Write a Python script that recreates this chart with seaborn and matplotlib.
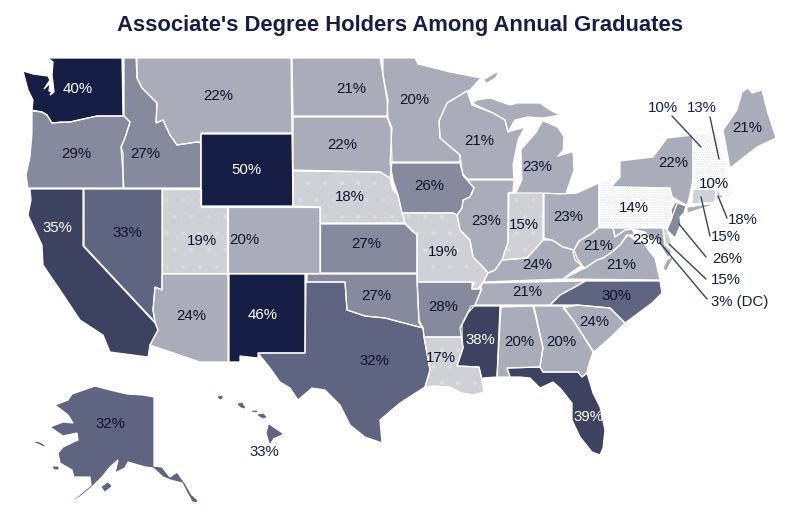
import pandas as pd
import matplotlib
matplotlib.use('Agg')
import matplotlib.pyplot as plt
import seaborn as sns

# share of associate's degree holders per state
state_names = ['WA','OR','CA','NV','ID','MT','WY','UT','AZ','CO','NM','ND','SD','NE','KS','OK','TX',
               'MN','IA','MO','AR','LA','WI','IL','MI','IN','OH','KY','TN','MS','AL','GA','FL','SC',
               'NC','VA','WV','MD','DE','DC','PA','NY','NJ','CT','RI','MA','VT','NH','ME','AK','HI']
percents = [40,29,35,33,27,22,50,19,24,20,46,21,22,18,27,27,32,
            20,26,19,28,17,21,23,23,15,23,24,21,38,20,20,39,24,
            30,21,21,23,15,3,14,22,26,15,18,10,10,13,21,32,33]

shades = ['#ffffff','#d0d1d6','#abacb9','#878a9c','#5f6580','#3c4260','#161e45']
bin_edges = [0,15,20,25,30,35,40,101]

# state outlines (pixel space)
outlines = {
 'WA':[[(48,58),(122,58),(123,116),(97,116),(83,119),(70,122),(60,122),(52,123),(47,115),(42,112),(32,110),(33,100),(28,90),(23,71),(33,74),(48,76),(50,80),(44,89),(50,83),(49,91),(52,92),(50,95),(54,92),(53,83),(52,76),(53,62)]],
 'OR':[[(32,111),(42,112),(47,115),(52,123),(70,122),(97,116),(124,116),(130,122),(125,138),(121,147),(123,153),(123,188),(28,188),(26,175),(30,157),(32,133)]],
 'ID':[[(124,58),(136,58),(137,78),(142,88),(157,103),(156,123),(163,120),(170,135),(177,145),(197,142),(201,143),(201,188),(124,188),(121,147),(125,138),(130,122),(124,116)]],
 'MT':[[(137,58),(291,58),(292,133),(201,133),(201,142),(197,142),(177,145),(170,135),(163,120),(156,123),(157,103),(142,88),(137,78)]],
 'WY':[[(201,134),(292,134),(293,206),(201,206)]],
 'ND':[[(292,58),(380,58),(383,75),(388,100),(387,116),(293,116)]],
 'SD':[[(293,117),(387,117),(391,128),(392,162),(390,178),(380,172),(293,170)]],
 'NE':[[(293,171),(380,172),(390,178),(393,190),(398,195),(402,213),(405,223),(320,223),(320,207),(293,206)]],
 'IA':[[(390,163),(460,163),(463,175),(474,188),(470,197),(463,200),(462,208),(457,215),(453,213),(402,213),(398,195),(393,180)]],
 'MN':[[(383,58),(415,58),(418,64),(430,67),(450,72),(481,78),(470,90),(467,91),(447,103),(439,121),(440,138),(460,155),(460,162),(390,162),(392,128),(388,118),(387,100),(383,75)]],
 'WI':[[(472,105),(467,91),(447,103),(439,121),(440,138),(460,155),(461,163),(463,175),(468,179),(514,179),(513,165),(518,140),(525,127),(508,132),(505,120),(493,113)]],
 'MI':[[(472,103),(477,100),(490,98),(510,105),(517,103),(540,103),(550,110),(560,115),(543,118),(528,117),(515,120),(508,132),(505,120),(493,113)],
       [(543,122),(557,128),(563,137),(562,150),(555,158),(572,153),(573,170),(565,193),(517,193),(523,180),(522,150),(537,133)],
       [(485,80),(497,73),(495,77),(487,82)]],
 'IL':[[(468,180),(514,180),(513,192),(508,193),(508,242),(502,260),(495,270),(488,273),(483,267),(473,257),(470,240),(460,230),(457,215),(462,208),(463,200),(470,197),(474,188),(463,175)]],
 'IN':[[(509,193),(543,193),(543,240),(537,247),(527,258),(502,260),(508,242)]],
 'OH':[[(544,193),(560,194),(577,193),(599,183),(599,227),(593,233),(580,240),(574,250),(563,247),(552,240),(544,238)]],
 'KY':[[(483,282),(488,273),(495,270),(502,260),(527,258),(537,247),(543,240),(552,240),(563,247),(574,250),(577,258),(582,265),(572,272),(563,279)]],
 'TN':[[(475,305),(480,293),(482,283),(585,281),(573,288),(560,295),(550,305)]],
 'WV':[[(599,227),(613,228),(615,237),(625,230),(632,229),(635,235),(627,235),(620,245),(612,252),(603,258),(597,260),(585,268),(575,260),(573,252),(578,242),(592,233)]],
 'VA':[[(563,279),(585,268),(597,260),(603,258),(612,252),(620,245),(628,235),(635,240),(643,242),(650,252),(655,258),(660,280)],
       [(668,260),(672,258),(666,270),(664,268)]],
 'MD':[[(613,228),(663,228),(665,245),(672,252),(668,258),(660,245),(657,240),(650,238),(645,232),(632,229),(625,230),(615,237)]],
 'DE':[[(663,228),(667,229),(672,243),(665,245)]],
 'DC':[[(654,244),(657,244),(657,247),(654,247)]],
 'PA':[[(599,184),(611,178),(611,187),(670,188),(672,197),(678,201),(672,217),(666,226),(599,228)]],
 'NY':[[(611,187),(620,177),(620,161),(653,157),(667,138),(693,135),(693,180),(688,203),(686,205),(672,197),(670,188)],
       [(688,208),(710,205),(703,207),(688,212)]],
 'NJ':[[(675,202),(686,206),(684,213),(680,217),(681,224),(675,238),(667,230),(672,218),(671,210)]],
 'VT':[[(693,135),(708,133),(712,150),(708,165),(707,178),(693,180)]],
 'NH':[[(708,133),(716,131),(725,165),(727,167),(722,177),(707,178),(708,165),(712,150)]],
 'MA':[[(693,180),(722,177),(727,180),(730,190),(737,193),(725,198),(716,189),(693,189)]],
 'CT':[[(693,189),(716,189),(715,202),(692,204)]],
 'RI':[[(716,189),(722,190),(725,197),(716,201)]],
 'ME':[[(723,130),(737,110),(742,92),(748,88),(752,93),(762,90),(767,110),(776,138),(757,147),(730,168)]],
 'MO':[[(402,213),(453,213),(457,215),(460,230),(470,240),(473,257),(483,267),(488,273),(483,283),(477,289),(472,289),(474,282),(417,282),(417,235),(410,228),(405,223)]],
 'KS':[[(320,224),(405,224),(411,230),(417,235),(417,273),(320,273)]],
 'OK':[[(307,274),(417,274),(418,300),(419,320),(423,328),(400,322),(385,318),(365,316),(347,310),(345,282),(307,282)]],
 'TX':[[(306,282),(345,282),(347,310),(365,316),(385,318),(400,322),(423,328),(424,337),(430,370),(425,387),(400,403),(380,420),(382,443),(365,437),(350,425),(340,405),(325,390),(312,388),(298,400),(290,388),(280,382),(270,368),(258,353),(305,353)]],
 'NM':[[(229,274),(305,274),(305,353),(258,353),(258,358),(240,356),(240,362),(229,362)]],
 'LA':[[(424,337),(462,337),(463,348),(457,366),(479,367),(482,380),(484,392),(473,395),(462,393),(450,387),(433,386),(425,387),(430,370)]],
 'AR':[[(417,282),(472,282),(472,289),(482,289),(480,293),(475,305),(468,313),(462,325),(462,337),(424,337),(423,328),(419,323)]],
 'MS':[[(471,306),(500,306),(497,377),(483,378),(482,380),(479,367),(457,366),(463,348),(460,328)]],
 'AL':[[(501,307),(533,306),(543,348),(540,367),(507,368),(510,377),(497,377)]],
 'GA':[[(534,306),(563,306),(573,320),(593,352),(588,367),(587,373),(582,377),(578,372),(543,372),(540,367),(543,348)]],
 'FL':[[(507,368),(540,367),(543,372),(578,372),(582,377),(587,373),(593,393),(600,407),(605,430),(603,448),(600,455),(592,452),(580,437),(572,420),(572,403),(560,388),(553,382),(540,388),(530,378),(520,377),(510,377)]],
 'SC':[[(563,308),(577,305),(610,308),(625,323),(613,335),(594,352),(573,320)]],
 'NC':[[(586,281),(660,281),(662,293),(652,303),(625,323),(610,308),(577,305),(550,305),(560,295),(573,288)]],
 'UT':[[(162,189),(201,189),(201,207),(227,207),(227,273),(162,273)]],
 'CO':[[(228,207),(320,207),(320,273),(228,273)]],
 'NV':[[(84,189),(162,189),(162,290),(155,287),(153,310),(155,322),(84,246)]],
 'CA':[[(30,189),(83,189),(83,246),(155,323),(158,330),(150,345),(148,357),(110,352),(103,335),(80,320),(60,290),(43,265),(42,245),(28,215),(31,200)]],
 'AZ':[[(162,274),(228,274),(228,362),(200,362),(150,345),(158,330),(155,322),(153,310),(155,287),(162,290)]],
 'AK':[[(55,405),(68,400),(72,394),(95,386),(110,390),(127,394),(143,395),(154,397),(154,466),(162,467),(170,477),(177,472),(185,483),(192,495),(198,500),(197,503),(192,502),(182,483),(170,480),(163,477),(153,468),(145,467),(128,462),(125,468),(115,473),(118,460),(110,467),(102,477),(92,487),(80,497),(63,507),(78,496),(91,485),(90,477),(82,477),(74,477),(72,470),(60,463),(58,453),(63,447),(78,440),(77,433),(63,436),(50,427),(63,422),(73,423),(68,415)],
       [(35,442),(40,443),(44,446),(40,444)],
       [(53,467),(58,467),(58,469),(55,469)],
       [(102,487),(108,483),(111,486),(105,491)]],
 'HI':[[(218,397),(222,396),(222,398),(220,399)],
       [(238,404),(242,403),(245,408),(241,407)],
       [(252,411),(257,411),(256,412),(252,411)],
       [(258,415),(263,414),(266,417),(263,418)],
       [(269,425),(282,434),(273,438),(270,443),(267,433)]],
}

# where each label sits, states that are too small get a leader line
label_spots = {
 'WA':(78,89),'OR':(76,154),'CA':(57,228),'NV':(127,233),'ID':(145,154),'MT':(218,96),'WY':(246,170),
 'UT':(202,241),'AZ':(191,316),'CO':(244,240),'NM':(263,315),'ND':(351,89),'SD':(342,145),'NE':(350,197),
 'KS':(366,244),'OK':(376,296),'TX':(374,361),'MN':(414,100),'IA':(429,186),'MO':(443,252),'AR':(443,307),
 'LA':(441,358),'WI':(479,141),'IL':(486,221),'MI':(537,167),'IN':(524,225),'OH':(568,217),'KY':(537,265),
 'TN':(527,292),'MS':(480,340),'AL':(519,342),'GA':(561,342),'FL':(588,417),'SC':(594,322),'NC':(616,296),
 'VA':(621,265),'WV':(598,246),'MD':(647,240),'NY':(673,163),'ME':(747,128),'PA':(634,208),'AK':(110,424),
 'HI':(264,452),'VT':(663,108),'NH':(702,108),'MA':(714,184),'RI':(743,220),'CT':(726,237),'NJ':(727,259),
 'DE':(726,280),'DC':(740,302),
}
leaders = {
 'VT':[(672,116),(701,147)],'NH':[(710,117),(719,159)],'RI':[(718,196),(727,218)],'CT':[(701,197),(710,236)],
 'NJ':[(679,224),(706,257)],'DE':[(669,244),(706,279)],'DC':[(660,243),(707,299)],
}

df = pd.DataFrame({'state': state_names, 'pct': percents})
df['bin'] = pd.cut(df['pct'], bin_edges, right=False, labels=False)

sns.set_theme(style='white')
plt.rcParams['font.family'] = ['Liberation Sans', 'DejaVu Sans']
plt.rcParams['hatch.linewidth'] = 0.5
palette = sns.color_palette(shades)
navy = shades[-1]

fig, ax = plt.subplots(figsize=(8, 5.26), dpi=100)
ax.set_position([0, 0, 1, 1])
ax.set_xlim(0, 800)
ax.set_ylim(526, 0)
ax.set_axis_off()

for _, row in df.iterrows():
    face = palette[row['bin']]
    for i, part in enumerate(outlines[row['state']]):
        xs, ys = zip(*part)
        if row['bin'] == 0:
            # lowest bin is a grey stipple on white
            ax.fill(xs, ys, facecolor='white', edgecolor='#dcdde1', hatch='.......', lw=0, zorder=1)
        elif row['bin'] == 1:
            ax.fill(xs, ys, facecolor=face, edgecolor='#dcdde0', hatch='.', lw=0, zorder=1)
        else:
            ax.fill(xs, ys, facecolor=face, edgecolor='none', zorder=1)
        # islands would vanish under a white border
        small = i > 0 or row['state'] == 'HI'
        if small:
            ax.fill(xs, ys, facecolor='none', edgecolor=face, lw=0.6, zorder=2)
        else:
            ax.fill(xs, ys, facecolor='none', edgecolor='white', lw=0.9, zorder=2)

for st, seg in leaders.items():
    xs, ys = zip(*seg)
    ax.plot(xs, ys, color='#3c4260', lw=1, zorder=3)

for _, row in df.iterrows():
    x, y = label_spots[row['state']]
    txt = f"{row['pct']}%"
    if row['state'] == 'DC':
        txt = '3% (DC)'
    outside = row['state'] in leaders or row['state'] == 'HI'
    if row['bin'] >= 5:
        col = 'white'
    elif outside:
        col = navy
    else:
        col = '#10142e'
    ax.text(x, y, txt, ha='center', va='center', fontsize=10.8, color=col, zorder=4)

ax.text(400, 25, "Associate's Degree Holders Among Annual Graduates", ha='center', va='center',
        fontsize=15.8, fontweight='bold', color=navy)

fig.savefig('out.png', dpi=100)
